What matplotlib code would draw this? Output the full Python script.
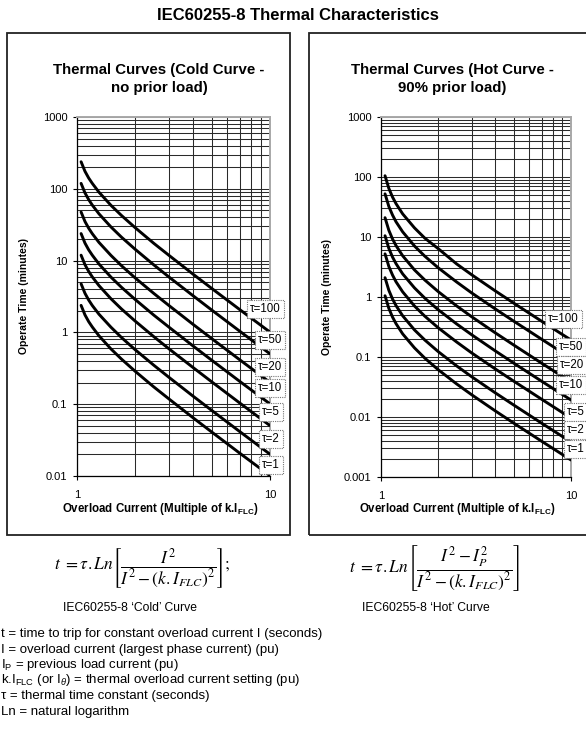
import matplotlib
matplotlib.use("Agg")
import matplotlib.pyplot as plt
from matplotlib import ticker
from matplotlib.patches import Rectangle
import numpy as np

plt.rcParams['font.family'] = ['Liberation Sans', 'DejaVu Sans']
plt.rcParams['mathtext.fontset'] = 'custom'
plt.rcParams['mathtext.rm'] = 'Liberation Sans'
plt.rcParams['mathtext.it'] = 'Liberation Sans:italic'
plt.rcParams['mathtext.bf'] = 'Liberation Sans:bold'

W, H = 586, 731

# overload current (multiple of k.I_FLC), same points for both panels
current = [1.05, 1.1, 1.15, 1.2, 1.3, 1.5, 1.7, 2, 2.5, 3, 4, 5, 7, 10]

taus = [100, 50, 20, 10, 5, 2, 1]
tau_labels = ["\u03c4=100", "\u03c4=50", "\u03c4=20", "\u03c4=10", "\u03c4=5", "\u03c4=2", "\u03c4=1"]

# operate time (minutes), cold curve
cold_t100 = [238, 175, 141, 119, 89.6, 58.8, 42.5, 28.8, 17.4, 11.8, 6.45, 4.08, 2.06, 1.01]
cold_t50 = [119, 87.6, 70.6, 59.3, 44.8, 29.4, 21.2, 14.4, 8.72, 5.89, 3.23, 2.04, 1.03, 0.503]
cold_t20 = [47.5, 35.0, 28.2, 23.7, 17.9, 11.8, 8.49, 5.75, 3.49, 2.36, 1.29, 0.816, 0.412, 0.201]
cold_t10 = [23.8, 17.5, 14.1, 11.9, 8.96, 5.88, 4.25, 2.88, 1.74, 1.18, 0.645, 0.408, 0.206, 0.101]
cold_t5 = [11.9, 8.76, 7.06, 5.93, 4.48, 2.94, 2.12, 1.44, 0.872, 0.589, 0.323, 0.204, 0.103, 0.0503]
cold_t2 = [4.75, 3.50, 2.82, 2.37, 1.79, 1.18, 0.849, 0.575, 0.349, 0.236, 0.129, 0.0816, 0.0412, 0.0201]
cold_t1 = [2.38, 1.75, 1.41, 1.19, 0.896, 0.588, 0.425, 0.288, 0.174, 0.118, 0.0645, 0.0408, 0.0206, 0.0101]

# operate time (minutes), hot curve (90% prior load)
hot_t100 = [105, 64.4, 46.3, 35.9, 24.3, 14.2, 9.58, 6.4, 3.56, 2.35, 1.26, 0.789, 0.395, 0.192]
hot_t50 = [52.4, 32.2, 23.2, 17.9, 12.2, 7.08, 4.79, 3.07, 1.78, 1.17, 0.630, 0.395, 0.198, 0.0959]
hot_t20 = [21.0, 12.9, 9.26, 7.18, 4.87, 2.83, 1.92, 1.23, 0.711, 0.469, 0.252, 0.158, 0.0790, 0.0383]
hot_t10 = [10.5, 6.44, 4.63, 3.59, 2.43, 1.42, 0.958, 0.614, 0.356, 0.235, 0.126, 0.0789, 0.0395, 0.0192]
hot_t5 = [5.24, 3.22, 2.32, 1.79, 1.22, 0.708, 0.479, 0.307, 0.178, 0.117, 0.0630, 0.0395, 0.0198, 0.00959]
hot_t2 = [2.10, 1.29, 0.926, 0.718, 0.487, 0.283, 0.192, 0.123, 0.0711, 0.0469, 0.0252, 0.0158, 0.00790, 0.00383]
hot_t1 = [1.05, 0.644, 0.463, 0.359, 0.243, 0.142, 0.0958, 0.0614, 0.0356, 0.0235, 0.0126, 0.00789, 0.00395, 0.00192]

cold_curves = [cold_t100, cold_t50, cold_t20, cold_t10, cold_t5, cold_t2, cold_t1]
hot_curves = [hot_t100, hot_t50, hot_t20, hot_t10, hot_t5, hot_t2, hot_t1]


def px(x, y):
    # pixel position (from top-left) -> figure fraction
    return x / W, 1 - y / H


def rect(x0, y0, x1, y1):
    l, t = px(x0, y0)
    r, b = px(x1, y1)
    return [l, b, r - l, t - b]


fig = plt.figure(figsize=(W / 100, H / 100), dpi=100)

# panel frames
for x0, x1 in [(7, 290), (309, 600)]:
    l, b, w, h = rect(x0, 33, x1, 535)
    fig.patches.append(Rectangle((l, b), w, h, transform=fig.transFigure,
                                 fill=False, ec='#222222', lw=1.3, zorder=-1))

fig.text(*px(298, 15), "IEC60255-8 Thermal Characteristics", ha='center', va='center',
         fontsize=12, fontweight='bold')

panels = [
    dict(box=(77, 117, 270, 476), curves=cold_curves, ylim=(0.01, 1000),
         title="Thermal Curves (Cold Curve -\nno prior load)", tcx=159, xlcx=160,
         ylx=-0.25,
         labels=[(250, 309), (258, 340), (258, 367), (258, 388), (262, 412), (262, 439), (262, 465)]),
    dict(box=(381, 117, 571, 477), curves=hot_curves, ylim=(0.001, 1000),
         title="Thermal Curves (Hot Curve -\n90% prior load)", tcx=452, xlcx=457,
         ylx=-0.26,
         labels=[(548, 319), (559, 347), (560, 365), (559, 385), (567, 412), (567, 430), (567, 449)]),
]

for p in panels:
    ax = fig.add_axes(rect(*p['box']))
    ax.set_xscale('log')
    ax.set_yscale('log')
    ax.set_xlim(1, 10)
    ax.set_ylim(*p['ylim'])
    for ys in p['curves']:
        ax.plot(current, ys, color='black', lw=2.1, solid_capstyle='round', zorder=3)

    ax.set_xticks([1, 10])
    ax.xaxis.set_major_formatter(ticker.FuncFormatter(lambda v, pos: '%g' % v))
    ax.yaxis.set_major_locator(ticker.LogLocator(base=10, numticks=20))
    ax.yaxis.set_major_formatter(ticker.FuncFormatter(lambda v, pos: '%g' % v))
    ax.xaxis.set_minor_locator(ticker.LogLocator(base=10, subs=np.arange(2, 10), numticks=50))
    ax.yaxis.set_minor_locator(ticker.LogLocator(base=10, subs=np.arange(2, 10), numticks=50))
    ax.xaxis.set_minor_formatter(ticker.NullFormatter())
    ax.yaxis.set_minor_formatter(ticker.NullFormatter())
    ax.tick_params(which='minor', length=0)
    ax.tick_params(which='major', length=3, width=0.8, labelsize=8, pad=4)
    ax.tick_params(axis='x', which='major', pad=7)
    ax.grid(True, which='both', color='#2a2a2a', lw=0.75)
    ax.set_axisbelow(True)
    for s in ['top', 'right']:
        ax.spines[s].set_color('#a8a8a8')
        ax.spines[s].set_linewidth(1.4)
    for s in ['left', 'bottom']:
        ax.spines[s].set_linewidth(0.9)

    ax.set_ylabel("Operate Time (minutes)", fontsize=7.5, fontweight='bold')
    ax.yaxis.set_label_coords(p['ylx'], 0.5)

    fig.text(*px(p['tcx'], 79), p['title'], ha='center', va='center', fontsize=10.8,
             fontweight='bold', linespacing=1.3)
    fig.text(*px(p['xlcx'], 509), r"Overload Current (Multiple of k.I$_{\mathbf{FLC}}$)",
             ha='center', va='center', fontsize=8.3, fontweight='bold')

    for lab, (lx, ly) in zip(tau_labels, p['labels']):
        fig.text(*px(lx, ly), lab, ha='left', va='center', fontsize=8.3, zorder=5,
                 bbox=dict(boxstyle='square,pad=0.25', fc='white', ec='#777777',
                           ls=(0, (1, 1)), lw=0.8))

# formulas
fig.text(*px(142, 568), r"$t\ =\tau.Ln\left[\dfrac{I^2}{I^2-\left(k.I_{FLC}\right)^2}\right];$",
         ha='center', va='center', fontsize=12.5, math_fontfamily='stix')
fig.text(*px(435, 568), r"$t\ =\tau.Ln\left[\dfrac{I^2-I_P^2}{I^2-\left(k.I_{FLC}\right)^2}\right]$",
         ha='center', va='center', fontsize=12.5, math_fontfamily='stix')
fig.text(*px(130, 608), "IEC60255-8 \u2018Cold\u2019 Curve", ha='center', va='center', fontsize=8.7)
fig.text(*px(426, 608), "IEC60255-8 \u2018Hot\u2019 Curve", ha='center', va='center', fontsize=8.7)

notes = [
    "t = time to trip for constant overload current I (seconds)",
    "I = overload current (largest phase current) (pu)",
    r"I$_{\mathrm{P}}$ = previous load current (pu)",
    r"k.I$_{\mathrm{FLC}}$ (or I$_{\theta}$) = thermal overload current setting (pu)",
    "\u03c4 = thermal time constant (seconds)",
    "Ln = natural logarithm",
]
for i, line in enumerate(notes):
    fig.text(*px(1, 634 + i * 15.5), line, ha='left', va='center', fontsize=9.5)

fig.savefig("out.png", dpi=100)
